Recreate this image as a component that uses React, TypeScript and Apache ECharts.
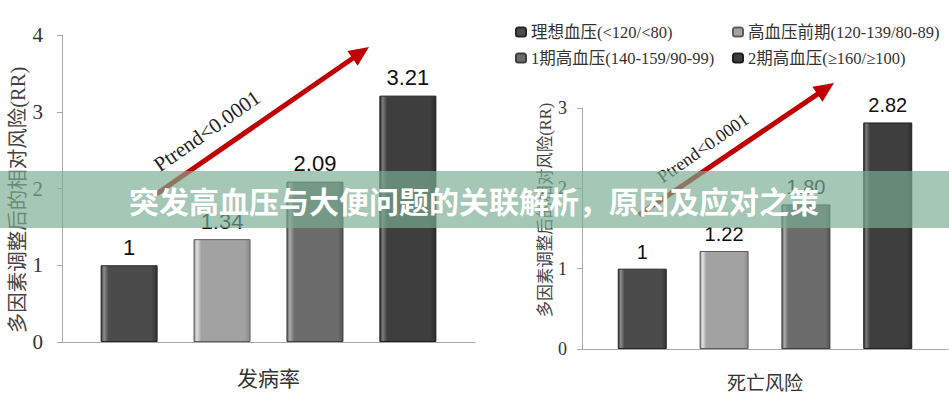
import React, { useEffect, useRef } from "react";
import * as echarts from "echarts";

const seriesNames = [
  "理想血压(<120/<80)",
  "高血压前期(120-139/80-89)",
  "1期高血压(140-159/90-99)",
  "2期高血压(≥160/≥100)",
];
const incidenceCategory = ["发病率"];
const mortalityCategory = ["死亡风险"];
const incidenceRR = [1, 1.34, 2.09, 3.21];
const incidenceLabels = ["1", "1.34", "2.09", "3.21"];
const mortalityRR = [1, 1.22, 1.8, 2.82];
const mortalityLabels = ["1", "1.22", "1.80", "2.82"];
const yTitle = "多因素调整后的相对风险(RR)";
const trendText = "Ptrend<0.0001";
const bannerTitle = "突发高血压与大便问题的关联解析，原因及应对之策";

const barStyles = [
  { base: "#4b4b4b", hi: "#8e8e8e", dark: "#333333", border: "#262626" },
  { base: "#a2a2a2", hi: "#e2e2e2", dark: "#8a8a8a", border: "#5e5e5e" },
  { base: "#6c6c6c", hi: "#ababab", dark: "#555555", border: "#3e3e3e" },
  { base: "#3e3e3e", hi: "#7c7c7c", dark: "#2c2c2c", border: "#1e1e1e" },
];

const serifCJK = "'Liberation Serif', 'Noto Sans CJK SC', serif";
const cjk = "'Noto Sans CJK SC', sans-serif";

function fill(i: number) {
  const s = barStyles[i];
  return new echarts.graphic.LinearGradient(0, 0, 1, 0, [
    { offset: 0, color: s.dark },
    { offset: 0.05, color: s.hi },
    { offset: 0.13, color: s.base },
    { offset: 0.9, color: s.base },
    { offset: 1, color: s.dark },
  ]);
}

function arrow(x1: number, y1: number, x2: number, y2: number, color: string) {
  const dx = x2 - x1;
  const dy = y2 - y1;
  const len = Math.sqrt(dx * dx + dy * dy);
  const ux = dx / len;
  const uy = dy / len;
  const headLen = 20;
  const headHalf = 9;
  const bx = x2 - ux * headLen;
  const by = y2 - uy * headLen;
  const px = -uy;
  const py = ux;
  return [
    {
      type: "line",
      shape: { x1, y1, x2: bx + ux * 2, y2: by + uy * 2 },
      style: { stroke: color, lineWidth: 5 },
      z: 10,
    },
    {
      type: "polygon",
      shape: {
        points: [
          [x2, y2],
          [bx + px * headHalf, by + py * headHalf],
          [bx - px * headHalf, by - py * headHalf],
        ],
      },
      style: { fill: color },
      z: 10,
    },
  ];
}

export default function App() {
  const ref = useRef<HTMLDivElement>(null);
  useEffect(() => {
    if (!ref.current) return;
    const chart = echarts.init(ref.current, undefined, { renderer: "svg" });

    const axisLine = { show: true, lineStyle: { color: "#a8a8a8", width: 1 } };

    const series: any[] = [];
    seriesNames.forEach((name, i) => {
      series.push({
        type: "bar",
        name,
        xAxisIndex: 0,
        yAxisIndex: 0,
        data: [incidenceRR[i]],
        barWidth: 57,
        barGap: "63%",
        itemStyle: { color: fill(i), borderColor: barStyles[i].border, borderWidth: 1 },
        label: {
          show: true,
          position: "top",
          distance: 7,
          formatter: () => incidenceLabels[i],
          fontSize: 22,
          fontFamily: "'Liberation Sans', sans-serif",
          color: "#111",
        },
      });
    });
    seriesNames.forEach((name, i) => {
      series.push({
        type: "bar",
        name,
        xAxisIndex: 1,
        yAxisIndex: 1,
        data: [mortalityRR[i]],
        barWidth: 49,
        barGap: "67%",
        itemStyle: { color: fill(i), borderColor: barStyles[i].border, borderWidth: 1 },
        label: {
          show: true,
          position: "top",
          distance: 7,
          formatter: () => mortalityLabels[i],
          fontSize: 20,
          fontFamily: "'Liberation Sans', sans-serif",
          color: "#111",
        },
      });
    });

    const legendPos = [
      { left: 515, top: 23 },
      { left: 732, top: 23 },
      { left: 515, top: 49 },
      { left: 732, top: 49 },
    ];

    const option: any = {
      animation: false,
      backgroundColor: "#ffffff",
      legend: seriesNames.map((name, i) => ({
        data: [name],
        left: legendPos[i].left,
        top: legendPos[i].top,
        padding: 0,
        itemWidth: 10,
        itemHeight: 9,
        selectedMode: false,
        textStyle: { fontSize: 16.5, fontFamily: serifCJK, color: "#333", lineHeight: 18 },
      })),
      grid: [
        { left: 62, right: 474, top: 35, bottom: 58 },
        { left: 582, right: 1, top: 108, bottom: 51 },
      ],
      xAxis: [
        {
          type: "category",
          gridIndex: 0,
          data: incidenceCategory,
          axisLine,
          axisTick: { show: false },
          axisLabel: { margin: 24, fontSize: 21, fontFamily: cjk, color: "#333" },
        },
        {
          type: "category",
          gridIndex: 1,
          data: mortalityCategory,
          axisLine,
          axisTick: { show: false },
          axisLabel: { margin: 23, fontSize: 19, fontFamily: cjk, color: "#333" },
        },
      ],
      yAxis: [
        {
          type: "value",
          gridIndex: 0,
          min: 0,
          max: 4,
          interval: 1,
          splitLine: { show: false },
          axisLine,
          axisTick: { show: true, inside: false, length: 5, lineStyle: { color: "#a8a8a8" } },
          axisLabel: { margin: 19, fontSize: 21, fontFamily: "'Liberation Serif', serif", color: "#333" },
        },
        {
          type: "value",
          gridIndex: 1,
          min: 0,
          max: 3,
          interval: 1,
          splitLine: { show: false },
          axisLine,
          axisTick: { show: true, inside: false, length: 5, lineStyle: { color: "#a8a8a8" } },
          axisLabel: { margin: 15, fontSize: 18, fontFamily: "'Liberation Serif', serif", color: "#333" },
        },
      ],
      series,
      graphic: [
        {
          type: "text",
          x: 18,
          y: 200,
          rotation: Math.PI / 2,
          style: {
            text: yTitle,
            fontSize: 20.5,
            fontFamily: serifCJK,
            fill: "#444",
            align: "center",
            verticalAlign: "middle",
          },
        },
        {
          type: "text",
          x: 545,
          y: 210,
          rotation: Math.PI / 2,
          style: {
            text: yTitle,
            fontSize: 16.5,
            fontFamily: serifCJK,
            fill: "#444",
            align: "center",
            verticalAlign: "middle",
          },
        },
        ...arrow(155, 195, 369, 47, "#c00000"),
        ...arrow(639, 215, 834, 83, "#c00000"),
        {
          type: "text",
          x: 207,
          y: 131,
          rotation: (35 * Math.PI) / 180,
          style: {
            text: trendText,
            fontSize: 21,
            fontFamily: "'Liberation Serif', serif",
            fill: "#222",
            align: "center",
            verticalAlign: "middle",
          },
          z: 11,
        },
        {
          type: "text",
          x: 703,
          y: 148,
          rotation: (35 * Math.PI) / 180,
          style: {
            text: trendText,
            fontSize: 18,
            fontFamily: "'Liberation Serif', serif",
            fill: "#222",
            align: "center",
            verticalAlign: "middle",
          },
          z: 11,
        },
        {
          type: "rect",
          shape: { x: 0, y: 171, width: 949, height: 57 },
          style: { fill: "rgba(122,172,146,0.68)" },
          z: 100,
        },
        {
          type: "text",
          x: 474,
          y: 200,
          style: {
            text: bannerTitle,
            fontSize: 30,
            fontWeight: "bold",
            fontFamily: cjk,
            fill: "#ffffff",
            align: "center",
            verticalAlign: "middle",
          },
          z: 101,
        },
      ],
    };
    chart.setOption(option);
    return () => chart.dispose();
  }, []);
  return (
    <div
      ref={ref}
      style={{ position: "absolute", left: 0, top: 0, width: 949, height: 400 }}
    />
  );
}
